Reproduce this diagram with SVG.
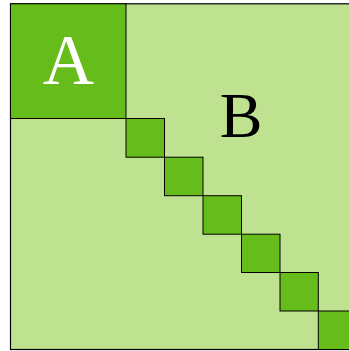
<svg xmlns="http://www.w3.org/2000/svg" width="349" height="351" viewBox="0 0 349 351">
<style>
.light{fill:#bfe291;stroke:#000;stroke-width:1.2}
.dark{fill:#65bc1a;stroke:#000;stroke-width:1}
.lbl{font-family:"Liberation Serif","DejaVu Serif",serif;text-anchor:middle}
</style>
<rect width="349" height="351" fill="#fff"/>
<g id="B">
<rect class="light" x="10.5" y="3.8" width="346" height="345.7"/>
<text class="lbl" x="241" y="137" font-size="64" fill="#000">B</text>
</g>
<g id="A">
<rect class="dark" x="10.5" y="3.8" width="115.5" height="114.7"/>
<text class="lbl" x="68.5" y="84" font-size="71" fill="#fff">A</text>
</g>
<g id="blocks">
<rect class="dark" x="126" y="118.5" width="38.5" height="38.7"/>
<rect class="dark" x="164.5" y="157.2" width="38.5" height="38.5"/>
<rect class="dark" x="203" y="195.7" width="38.5" height="38.5"/>
<rect class="dark" x="241.5" y="234.2" width="38.5" height="38.3"/>
<rect class="dark" x="280" y="272.5" width="38.3" height="38.5"/>
<rect class="dark" x="318.3" y="311" width="38.5" height="38.5"/>
</g>
<g id="connectors"></g>
</svg>
